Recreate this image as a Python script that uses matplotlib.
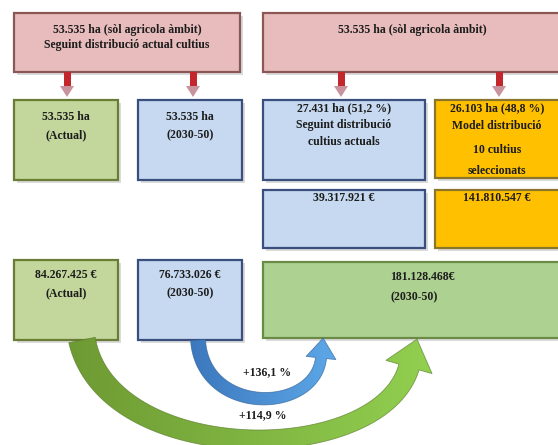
import numpy as np
import matplotlib
matplotlib.use("Agg")
import matplotlib.pyplot as plt
from matplotlib.patches import Rectangle, Polygon

plt.rcParams['font.family'] = ['Liberation Serif', 'DejaVu Serif']

# ---- content ----
top_left_lines = ["53.535 ha (sòl agricola àmbit)", "Seguint distribució actual cultius"]
top_right_lines = ["53.535 ha (sòl agricola àmbit)"]
area_actual = ["53.535 ha", "(Actual)"]
area_future = ["53.535 ha", "(2030-50)"]
area_current_dist = ["27.431 ha (51,2 %)", "Seguint distribució", "cultius actuals"]
area_model_dist = ["26.103 ha (48,8 %)", "Model distribució", "10 cultius", "seleccionats"]
value_current_dist = ["39.317.921 €"]
value_model_dist = ["141.810.547 €"]
value_actual = ["84.267.425 €", "(Actual)"]
value_future = ["76.733.026 €", "(2030-50)"]
value_total = ["181.128.468€", "(2030-50)"]
growth_labels = ["+136,1 %", "+114,9 %"]

# ---- styles ----
PINK = ('#e8bcbc', '#8a5656')
GREEN = ('#c3d69b', '#6a7d36')
BLUE = ('#c6d9f1', '#3a4f7e')
YELLOW = ('#ffc000', '#8a7628')
BIGGREEN = ('#acd191', '#6b8a45')

fig = plt.figure(figsize=(5.58, 4.45), dpi=100)
ax = fig.add_axes([0, 0, 1, 1])
ax.set_xlim(0, 558)
ax.set_ylim(445, 0)
ax.axis('off')

def box(x0, y0, x1, y1, style):
    fill, edge = style
    ax.add_patch(Rectangle((x0 + 2.5, y0 + 3), x1 - x0, y1 - y0, facecolor='#888888',
                           edgecolor='none', alpha=0.3, zorder=1))
    ax.add_patch(Rectangle((x0, y0), x1 - x0, y1 - y0, facecolor=fill,
                           edgecolor=edge, linewidth=1.6, zorder=2))

def lines(x, ys, texts, size=8.5):
    for y, t in zip(ys, texts):
        ax.text(x, y, t, ha='center', va='center', fontsize=size, fontweight='bold',
                color='#1c1c1c', zorder=5)

# row 1
box(14, 13, 240, 72, PINK)
lines(127, [30, 45], top_left_lines)
box(263, 13, 565, 72, PINK)
lines(412, [30], top_right_lines)

# small red arrows
for cx in [67, 193, 341, 499]:
    ax.add_patch(Rectangle((cx - 3.5, 72), 7, 15, facecolor='#c4262e', edgecolor='none', zorder=3))
    ax.add_patch(Polygon([(cx - 7, 86), (cx + 7, 86), (cx, 97)], closed=True,
                         facecolor='#c9939e', edgecolor='none', zorder=3))

# row 2
box(14, 100, 118, 180, GREEN)
lines(66, [117, 135], area_actual)
box(138, 100, 242, 180, BLUE)
lines(190, [117, 135], area_future)
box(263, 100, 425, 180, BLUE)
lines(344, [108, 125, 142], area_current_dist)
box(435, 100, 565, 178, YELLOW)
lines(497, [108, 126, 150, 171], area_model_dist)

# row 3
box(263, 190, 425, 248, BLUE)
lines(344, [198], value_current_dist)
box(435, 190, 565, 248, YELLOW)
lines(497, [198], value_model_dist)

# row 4
box(14, 260, 118, 340, GREEN)
lines(66, [275, 293], value_actual)
box(138, 260, 242, 340, BLUE)
lines(190, [275, 293], value_future)
box(263, 262, 565, 338, BIGGREEN)
ax.text(422, 277, value_total[0], ha='center', va='center', fontsize=8.5,
        fontweight='bold', color='#1c1c1c', zorder=5)
ax.text(414, 297, value_total[1], ha='center', va='center', fontsize=8.5,
        fontweight='bold', color='#1c1c1c', zorder=5)

# curved arrows
def curved_arrow(P, w0, wm, w1, head_w, head_len, c_left, c_right, n=120):
    P = np.array(P, float)
    t = np.linspace(0, 1, n)[:, None]
    pts = ((1 - t) ** 3) * P[0] + 3 * ((1 - t) ** 2) * t * P[1] + 3 * (1 - t) * t ** 2 * P[2] + t ** 3 * P[3]
    d = 3 * ((1 - t) ** 2) * (P[1] - P[0]) + 6 * (1 - t) * t * (P[2] - P[1]) + 3 * t ** 2 * (P[3] - P[2])
    d = d / np.linalg.norm(d, axis=1, keepdims=True)
    nrm = np.column_stack([-d[:, 1], d[:, 0]])
    tt = t[:, 0]
    w = w0 * (1 - tt) ** 2 + 2 * wm * tt * (1 - tt) + w1 * tt ** 2
    left = pts + nrm * (w[:, None] / 2)
    right = pts - nrm * (w[:, None] / 2)
    E = pts[-1]; T = d[-1]; N = nrm[-1]
    head = [E + N * head_w / 2, E + T * head_len, E - N * head_w / 2]
    poly = np.vstack([left, head, right[::-1]])
    patch = Polygon(poly, closed=True, facecolor='none', edgecolor='none', zorder=3)
    ax.add_patch(patch)
    x0, x1 = poly[:, 0].min(), poly[:, 0].max()
    y0, y1 = poly[:, 1].min(), poly[:, 1].max()
    cl = np.array(matplotlib.colors.to_rgb(c_left)); cr = np.array(matplotlib.colors.to_rgb(c_right))
    g = np.linspace(0, 1, 200)[:, None]
    img = (cl * (1 - g) + cr * g)[None, :, :].repeat(2, axis=0)
    im = ax.imshow(img, extent=(x0, x1, y1, y0), aspect='auto', zorder=3, interpolation='bilinear')
    im.set_clip_path(patch)
    edge = Polygon(poly, closed=True, facecolor='none', edgecolor=matplotlib.colors.to_hex(cl * 0.8),
                   linewidth=0.6, zorder=4, alpha=0.7)
    ax.add_patch(edge)

curved_arrow([(82, 340), (108, 468), (380, 468), (409, 367)], 27, 15, 21, 48, 29,
             '#6e9a33', '#92d050')
curved_arrow([(198, 340), (203, 416), (315, 414), (321, 358)], 15, 12, 11, 30, 20,
             '#3c78bd', '#5da8e8')

ax.text(267, 372, growth_labels[0], ha='center', va='center', fontsize=8.5,
        fontweight='bold', color='#1c1c1c', zorder=5)
ax.text(263, 415, growth_labels[1], ha='center', va='center', fontsize=8.5,
        fontweight='bold', color='#1c1c1c', zorder=5)

ax.set_xlim(0, 558)
ax.set_ylim(445, 0)
fig.savefig('out.png', dpi=100)
